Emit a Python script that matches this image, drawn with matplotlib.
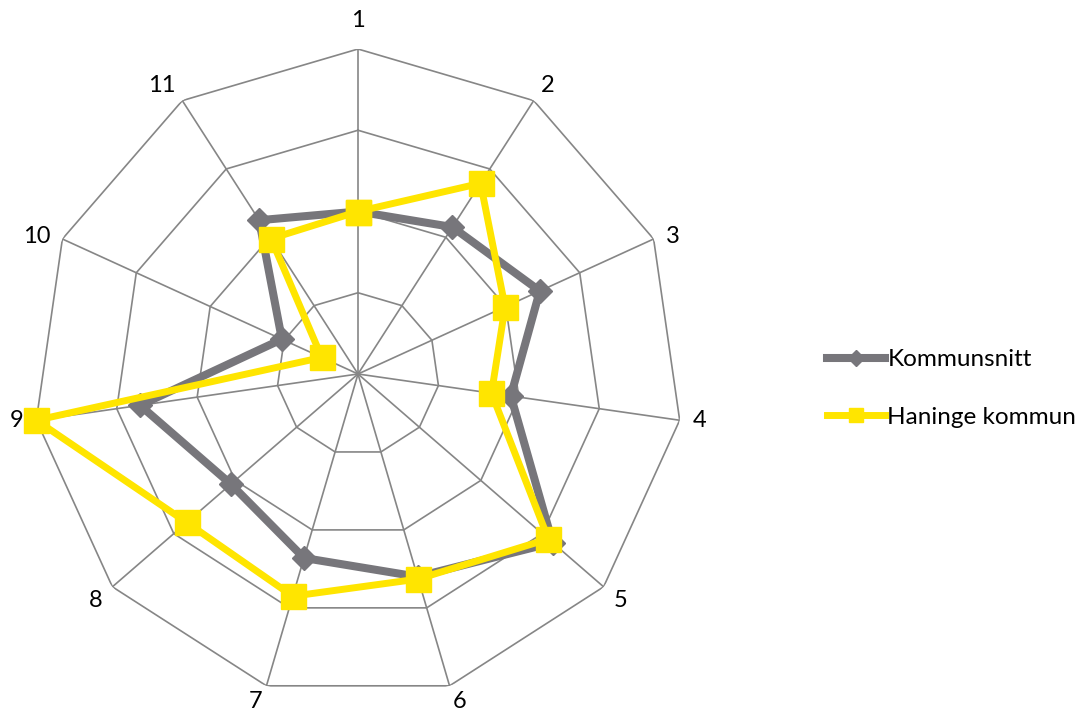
import numpy as np
import matplotlib.pyplot as plt
from matplotlib.lines import Line2D

# axis labels and values
categories = ['1', '2', '3', '4', '5', '6', '7', '8', '9', '10', '11']
kommunsnitt = [2.0, 2.15, 2.46, 1.9, 3.17, 2.6, 2.36, 2.07, 2.71, 1.03, 2.25]
haninge = [2.0, 2.79, 1.99, 1.66, 3.1, 2.63, 2.85, 2.79, 4.0, 0.49, 1.98]
rings = [1, 2, 3, 4]

grey = '#77767b'
yellow = '#ffe500'
gridc = '#868686'

plt.rcParams['font.family'] = ['Lato', 'DejaVu Sans']

n = len(categories)
theta = np.linspace(0, 2 * np.pi, n, endpoint=False)
theta_c = np.append(theta, theta[0])

fig = plt.figure(figsize=(10.86, 7.09), dpi=100)
ax = fig.add_axes([0.0304, 0.0141, 0.5985, 0.9168], projection='polar')
ax.set_theta_offset(np.pi / 2)
ax.set_theta_direction(-1)
ax.set_ylim(0, rings[-1])
ax.grid(False)
ax.spines['polar'].set_visible(False)
ax.set_xticks([])
ax.set_yticks([])

# polygon grid
for r in rings:
    ax.plot(theta_c, [r] * (n + 1), color=gridc, lw=1.2, zorder=1)
for t in theta:
    ax.plot([t, t], [0, rings[-1]], color=gridc, lw=1.2, zorder=1)

# category labels, placed next to the outer vertex like Excel does
for t, lab in zip(theta, categories):
    s, c = np.sin(t), np.cos(t)
    ha = 'left' if s > 0.1 else ('right' if s < -0.1 else 'center')
    va = 'bottom' if c > 0.6 else ('top' if c < -0.6 else 'center')
    if ha == 'center':
        off = (0, 18 * c)
    else:
        off = (13 * s, 5 * c)
    ax.annotate(lab, (t, rings[-1]), xytext=off,
                textcoords='offset pixels', ha=ha, va=va,
                fontsize=17, color='black', annotation_clip=False)

def closed(v):
    return list(v) + [v[0]]

ax.plot(theta_c, closed(kommunsnitt), color=grey, lw=5.8, marker='D',
        markersize=12, zorder=3, clip_on=False)
ax.plot(theta_c, closed(haninge), color=yellow, lw=5, marker='s',
        markersize=18, zorder=4, clip_on=False)

handles = [
    Line2D([], [], color=grey, lw=5.8, marker='D', markersize=8),
    Line2D([], [], color=yellow, lw=5, marker='s', markersize=10),
]
fig.legend(handles, ['Kommunsnitt', 'Haninge kommun'], loc='center left',
           bbox_to_anchor=(0.741, 0.452), frameon=False, fontsize=17.5,
           handlelength=2.4, handletextpad=0.1, labelspacing=1.5)

fig.savefig('out.png', dpi=100)
